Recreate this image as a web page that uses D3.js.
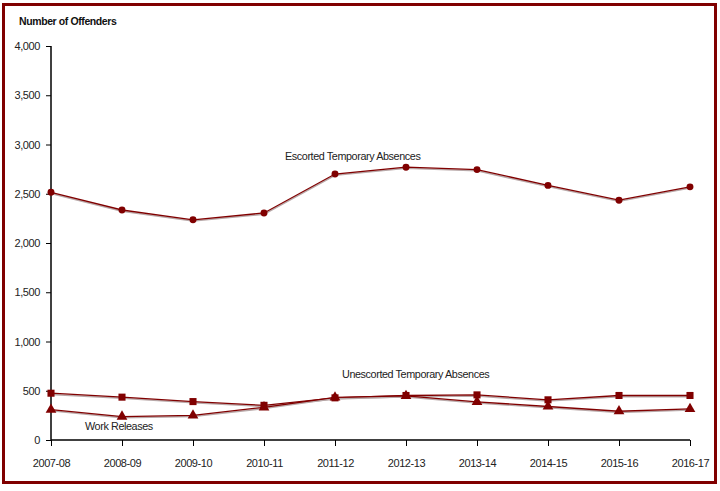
<!DOCTYPE html>
<html>
<head>
<meta charset="utf-8">
<script src="https://cdn.jsdelivr.net/npm/d3@7"></script>
<style>
  body { margin: 0; background: #fff; }
  text { font-family: "Liberation Sans", Arial, sans-serif; }
</style>
</head>
<body>
<div id="chart"></div>
<script>
const years = ["2007-08", "2008-09", "2009-10", "2010-11", "2011-12", "2012-13", "2013-14", "2014-15", "2015-16", "2016-17"]
const escorted = [2515, 2335, 2235, 2305, 2700, 2770, 2745, 2585, 2435, 2570]
const unescorted = [475, 435, 390, 352, 428, 452, 458, 408, 452, 452]
const workReleases = [308, 238, 250, 332, 433, 448, 388, 340, 292, 316]
const yTicks = [0, 500, 1000, 1500, 2000, 2500, 3000, 3500, 4000]

const W = 720, H = 491
const RED = "#800000"
const M = { left: 51, right: 30, top: 46, bottom: 51 }

const svg = d3.select("#chart").append("svg")
    .attr("width", W)
    .attr("height", H)

// outer frame
svg.append("rect")
    .attr("x", 3.5)
    .attr("y", 4.5)
    .attr("width", 712)
    .attr("height", 478)
    .attr("fill", "white")
    .attr("stroke", RED)
    .attr("stroke-width", 3)

const x = d3.scalePoint()
    .domain(years)
    .range([M.left, W - M.right])

const y = d3.scaleLinear()
    .domain([0, 4000])
    .range([H - M.bottom, M.top])

// axes
const yAxis = svg.append("g")
    .attr("transform", `translate(${M.left},0)`)
    .call(d3.axisLeft(y).tickValues(yTicks).tickSize(5).tickPadding(6).tickFormat(d3.format(",")))
yAxis.select(".domain").attr("stroke", "#000").attr("stroke-width", 1.5)
    .attr("d", `M0,${y(4000)}V${y(0)}`)
yAxis.selectAll(".tick line").attr("stroke", "#000")
yAxis.selectAll(".tick text").attr("fill", "#222").style("font-size", "11px")
    .style("letter-spacing", "-0.4px")
    .style("font-family", "Liberation Sans, Arial, sans-serif")

const xAxis = svg.append("g")
    .attr("transform", `translate(0,${y(0)})`)
    .call(d3.axisBottom(x).tickSize(6).tickPadding(13))
xAxis.select(".domain").attr("stroke", "#000").attr("stroke-width", 1.5)
    .attr("d", `M${x(years[0])},0H${x(years[years.length - 1])}`)
xAxis.selectAll(".tick line").attr("stroke", "#000")
xAxis.selectAll(".tick text").attr("fill", "#222").style("font-size", "11px")
    .style("letter-spacing", "-0.4px")
    .style("font-family", "Liberation Sans, Arial, sans-serif")

svg.append("text")
    .attr("x", 19)
    .attr("y", 25)
    .attr("fill", "#111")
    .style("font-size", "10.5px")
    .style("letter-spacing", "-0.4px")
    .style("font-weight", "bold")
    .text("Number of Offenders")

const line = d3.line()
    .x((d, i) => x(years[i]))
    .y(d => y(d))

const series = [
    { values: escorted, shape: "circle" },
    { values: unescorted, shape: "square" },
    { values: workReleases, shape: "triangle" },
]

series.forEach(s => {
    // soft grey shadow under the line
    svg.append("path")
        .datum(s.values)
        .attr("d", line)
        .attr("transform", "translate(0,1.2)")
        .attr("fill", "none")
        .attr("stroke", "#b8a8a8")
        .attr("stroke-width", 1.5)

    svg.append("path")
        .datum(s.values)
        .attr("d", line)
        .attr("fill", "none")
        .attr("stroke", RED)
        .attr("stroke-width", 1.3)

    const sym = s.shape === "circle" ? d3.symbolCircle
        : s.shape === "square" ? d3.symbolSquare : d3.symbolTriangle
    const size = s.shape === "circle" ? 38 : s.shape === "square" ? 50 : 50

    svg.append("g").selectAll("path")
        .data(s.values)
        .join("path")
        .attr("d", d3.symbol().type(sym).size(size))
        .attr("transform", (d, i) => `translate(${x(years[i])},${y(d)})`)
        .attr("fill", RED)
})

const labels = [
    { text: "Escorted Temporary Absences", x: 285, y: 160 },
    { text: "Unescorted Temporary Absences", x: 342, y: 378 },
    { text: "Work Releases", x: 85, y: 430 },
]
svg.append("g").selectAll("text")
    .data(labels)
    .join("text")
    .attr("x", d => d.x)
    .attr("y", d => d.y)
    .attr("fill", "#222")
    .style("font-size", "10.8px")
    .style("letter-spacing", "-0.4px")
    .text(d => d.text)
</script>
</body>
</html>
